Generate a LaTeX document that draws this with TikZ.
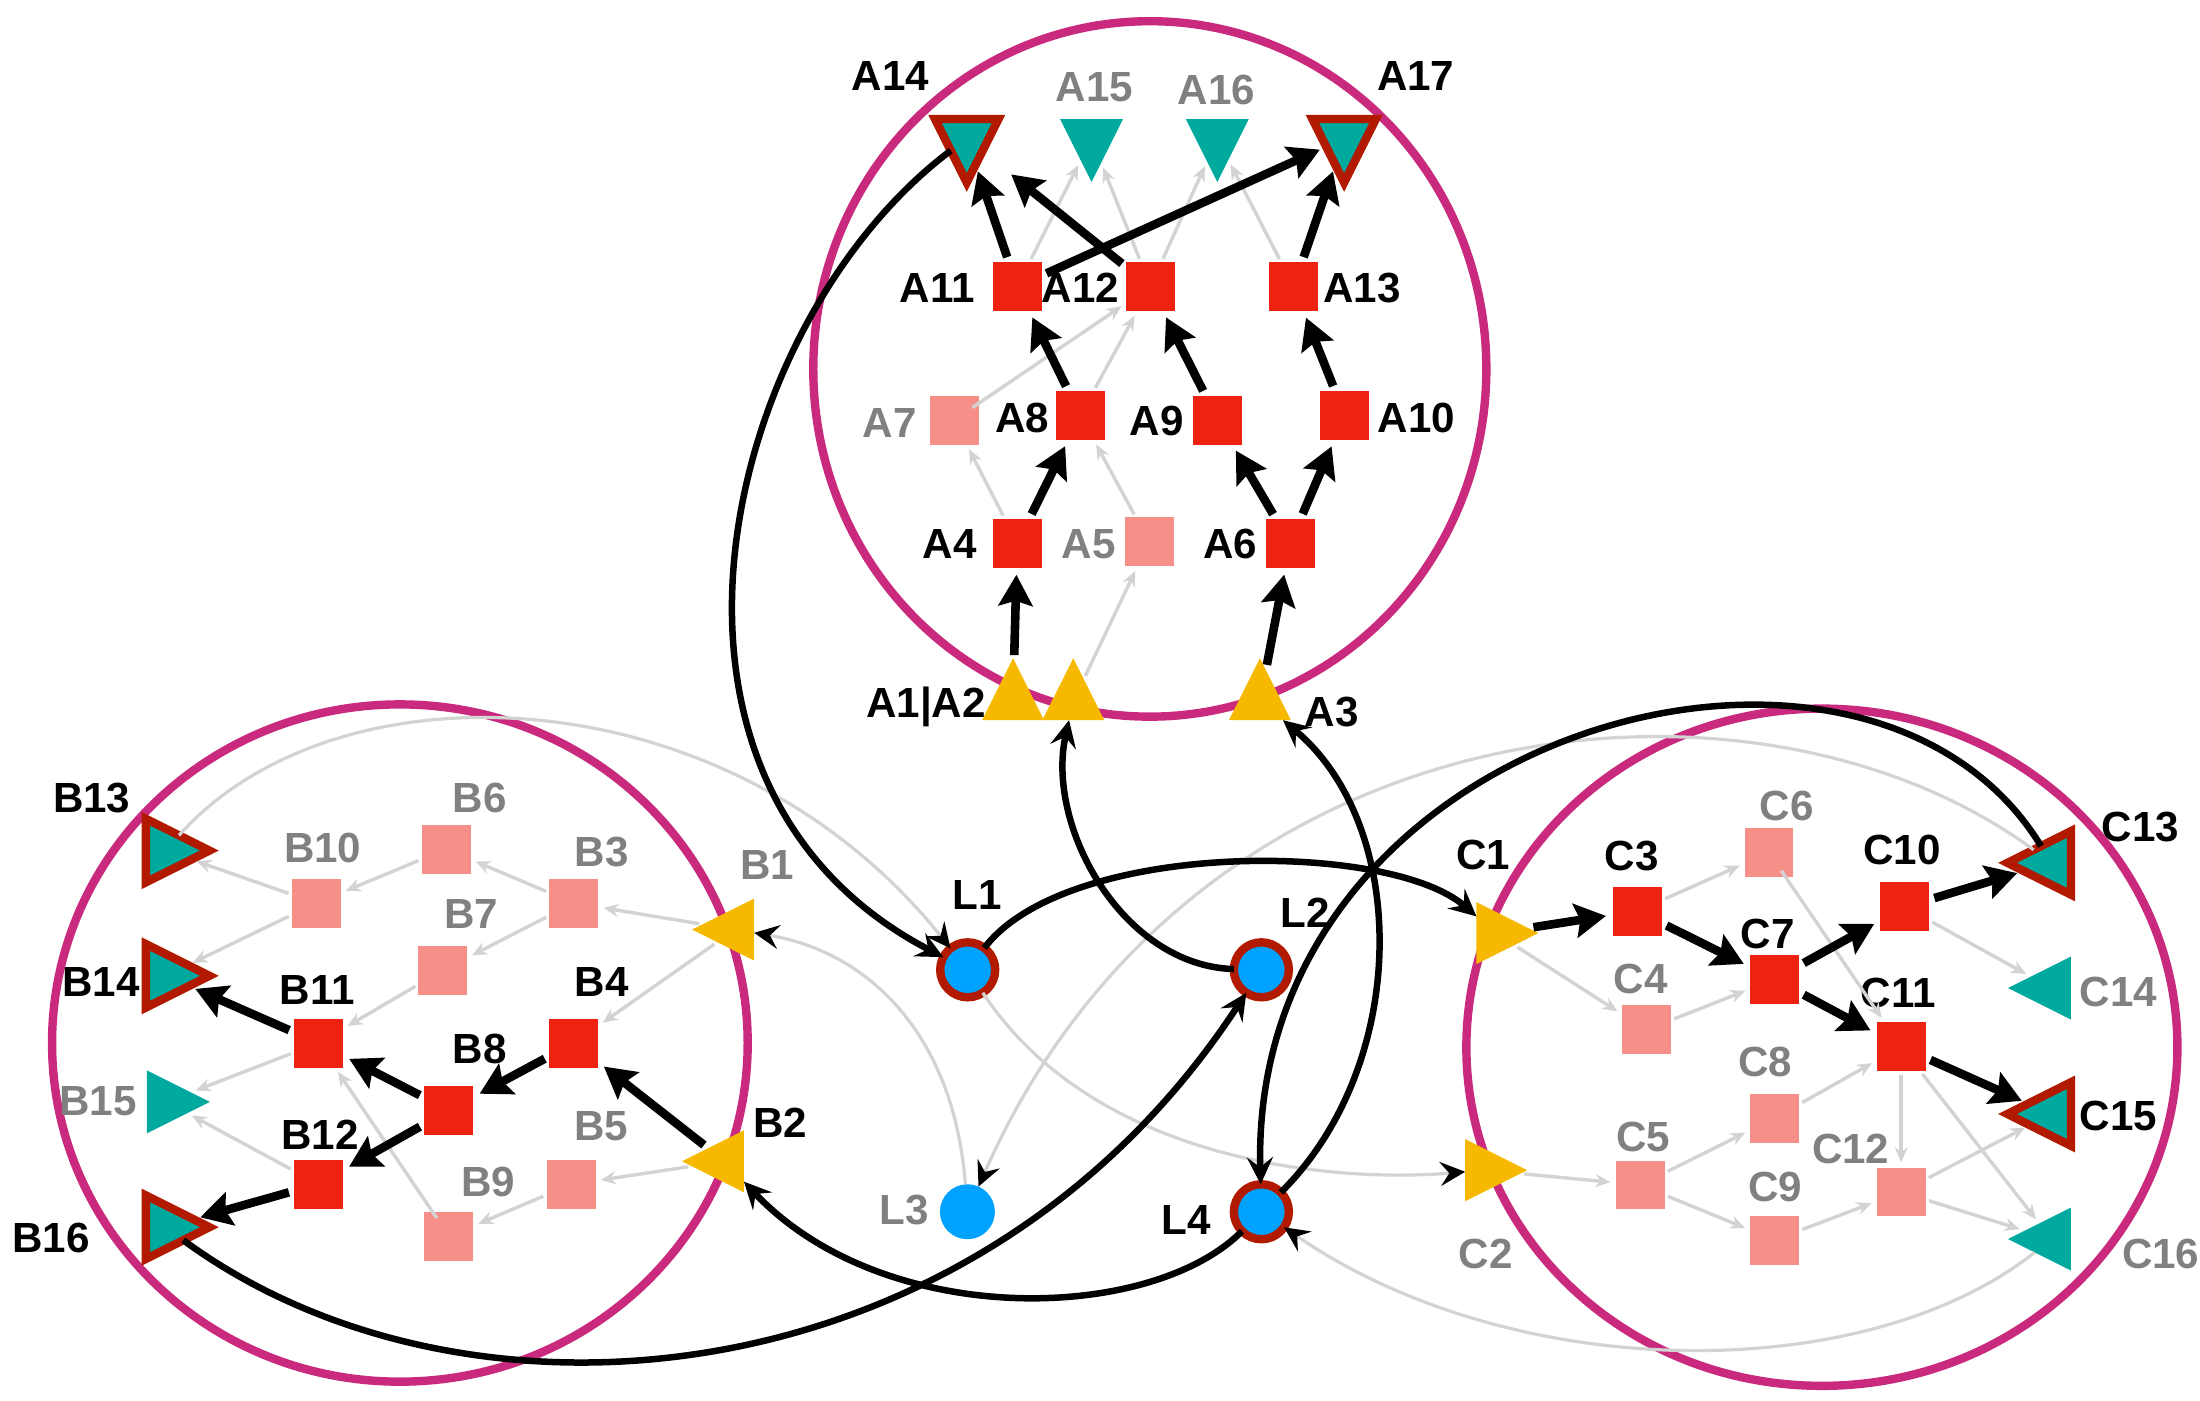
\documentclass[tikz,border=0pt]{standalone}
\usepackage{fontspec}
\setmainfont{Liberation Sans}
\usetikzlibrary{shapes.geometric,arrows.meta}
\definecolor{sqred}{HTML}{EE2211}
\definecolor{sqlight}{HTML}{F58F87}
\definecolor{tealc}{HTML}{00A99D}
\definecolor{outl}{HTML}{B21A00}
\definecolor{yel}{HTML}{F7B800}
\definecolor{bluec}{HTML}{00A2FF}
\definecolor{ellc}{HTML}{C92A7E}
\definecolor{txtgray}{HTML}{808080}
\definecolor{lngray}{HTML}{D3D3D3}
\begin{document}
\begin{tikzpicture}[x=0.014031cm,y=-0.014cm,
  sqr/.style={rectangle, fill=sqred, minimum size=0.49cm, inner sep=0pt, outer sep=0pt},
  sql/.style={sqr, fill=sqlight},
  tri/.style={isosceles triangle, isosceles triangle stretches, inner sep=0pt, outer sep=0pt, minimum width=0.62cm, minimum height=0.62cm},
  ytri/.style={tri, fill=yel},
  ttri/.style={tri, fill=tealc, minimum width=0.63cm, minimum height=0.63cm},
  otri/.style={tri, fill=tealc, draw=outl, line width=0.084cm, minimum width=0.635cm, minimum height=0.635cm},
  lnode/.style={circle, fill=bluec, minimum size=0.55cm, inner sep=0pt, outer sep=0pt},
  lnodeo/.style={lnode, draw=outl, line width=0.084cm},
  lbl/.style={font=\fontsize{12}{14}\selectfont\bfseries, inner sep=0pt, text height=8.6pt, text depth=0pt},
  lblg/.style={lbl, text=txtgray},
  ell/.style={draw=ellc, line width=0.084cm},
  thk/.style={draw=black, line width=0.086cm, -{Stealth[length=0.31cm,width=0.34cm,inset=0.05cm]}, shorten >=2pt, shorten <=1.5pt},
  thn/.style={draw=lngray, line width=0.034cm, -{Stealth[length=0.15cm,width=0.13cm]}, shorten >=1.5pt, shorten <=1pt},
  lng/.style={draw=black, line width=0.065cm, -{Stealth[length=0.27cm,width=0.26cm,inset=0.1cm]}},
  lngg/.style={draw=lngray, line width=0.032cm, -{Stealth[length=0.25cm,width=0.24cm,inset=0.09cm,color=black]}}
]
\useasboundingbox (0,0) rectangle (1568,1000);

% clusters
\draw[ell] (819.5,263.5) ellipse [x radius=3.367cm, y radius=3.479cm];
\draw[ell] (285,745) ellipse [x radius=3.48cm, y radius=3.388cm];
\draw[ell] (1298.5,748) ellipse [x radius=3.557cm, y radius=3.388cm];

% ---- cluster A ----
\node[ytri, shape border rotate=90, anchor=lower side] (A1) at (722,514.4) {};
\node[ytri, shape border rotate=90, anchor=lower side] (A2) at (765,514.4) {};
\node[ytri, shape border rotate=90, anchor=lower side] (A3) at (898,514.4) {};
\node[sqr] (A4) at (725,388) {};
\node[sql] (A5) at (819,387) {};
\node[sqr] (A6) at (919.5,388) {};
\node[sql] (A7) at (680,300) {};
\node[sqr] (A8) at (770,296.7) {};
\node[sqr] (A9) at (868,300) {};
\node[sqr] (A10) at (958.5,296.7) {};
\node[sqr] (A11) at (725,204.7) {};
\node[sqr] (A12) at (820,204.7) {};
\node[sqr] (A13) at (922,204.7) {};
\node[otri, shape border rotate=270, anchor=lower side] (A14) at (689,85) {};
\node[ttri, shape border rotate=270, anchor=lower side] (A15) at (778,85) {};
\node[ttri, shape border rotate=270, anchor=lower side] (A16) at (867.6,85) {};
\node[otri, shape border rotate=270, anchor=lower side] (A17) at (958,85) {};

% ---- cluster B ----
\node[ytri, shape border rotate=180, anchor=lower side] (B1) at (537.5,664) {};
\node[ytri, shape border rotate=180, anchor=lower side] (B2) at (530.2,829.5) {};
\node[sql] (B3) at (409,645) {};
\node[sqr] (B4) at (409,745) {};
\node[sql] (B5) at (407,846) {};
\node[sql] (B6) at (318,606.5) {};
\node[sql] (B7) at (315.7,693) {};
\node[sqr] (B8) at (320,793) {};
\node[sql] (B9) at (320,883) {};
\node[sql] (B10) at (225.5,645) {};
\node[sqr] (B11) at (227,745) {};
\node[sqr] (B12) at (227,845.7) {};
\node[otri, anchor=lower side] (B13) at (104,607.5) {};
\node[otri, anchor=lower side] (B14) at (104,697) {};
\node[ttri, anchor=lower side] (B15) at (104.7,787) {};
\node[otri, anchor=lower side] (B16) at (104,876.5) {};

% ---- cluster C ----
\node[ytri, anchor=lower side] (C1) at (1052.3,666.5) {};
\node[ytri, anchor=lower side] (C2) at (1044.3,835.8) {};
\node[sqr] (C3) at (1167,650.7) {};
\node[sql] (C4) at (1173.4,735.6) {};
\node[sql] (C5) at (1169,846.4) {};
\node[sql] (C6) at (1260.8,609) {};
\node[sqr] (C7) at (1264.8,699.4) {};
\node[sql] (C8) at (1264.8,798.6) {};
\node[sql] (C9) at (1264.8,885.7) {};
\node[sqr] (C10) at (1357.6,647.8) {};
\node[sqr] (C11) at (1355,747.7) {};
\node[sql] (C12) at (1355,851.4) {};
\node[otri, shape border rotate=180, anchor=lower side] (C13) at (1476,616.3) {};
\node[ttri, shape border rotate=180, anchor=lower side] (C14) at (1476,705.7) {};
\node[otri, shape border rotate=180, anchor=lower side] (C15) at (1476,795.7) {};
\node[ttri, shape border rotate=180, anchor=lower side] (C16) at (1476,885) {};

% ---- L nodes ----
\node[lnodeo] (L1) at (689.7,692.7) {};
\node[lnodeo] (L2) at (899,692.7) {};
\node[lnode] (L3) at (689.5,865.5) {};
\node[lnodeo] (L4) at (899,865.5) {};

% ---- labels ----
\node[lbl] (tA14) at (634.7,53.7) {A14};
\node[lblg] (tA15) at (780,62) {A15};
\node[lblg] (tA16) at (867,64) {A16};
\node[lbl] (tA17) at (1009,53.7) {A17};
\node[lbl] (tA11) at (668,205.5) {A11};
\node[lbl] (tA12) at (770,205.5) {A12};
\node[lbl] (tA13) at (970.6,205.5) {A13};
\node[lblg] (tA7) at (634,301.5) {A7};
\node[lbl] (tA8) at (728.5,298) {A8};
\node[lbl] (tA9) at (824.5,300) {A9};
\node[lbl] (tA10) at (1009.6,298) {A10};
\node[lbl] (tA4) at (677,388) {A4};
\node[lblg] (tA5) at (776,388) {A5};
\node[lbl] (tA6) at (877,388) {A6};
\node[lbl] (tA12b) at (660,502) {A1|A2};
\node[lbl] (tA3) at (949,508) {A3};

\node[lbl] (tB13) at (65.4,569.5) {B13};
\node[lblg] (tB6) at (342,569.5) {B6};
\node[lblg] (tB10) at (230,605) {B10};
\node[lblg] (tB3) at (429,608) {B3};
\node[lblg] (tB1) at (547,617.5) {B1};
\node[lblg] (tB7) at (336,652.7) {B7};
\node[lbl] (tB14) at (72,701) {B14};
\node[lbl] (tB11) at (226,707) {B11};
\node[lbl] (tB4) at (429,701) {B4};
\node[lbl] (tB8) at (342,749) {B8};
\node[lblg] (tB15) at (70,786) {B15};
\node[lblg] (tB5) at (428.5,804) {B5};
\node[lbl] (tB12) at (228,810) {B12};
\node[lblg] (tB9) at (348,843.5) {B9};
\node[lbl] (tB16) at (36.4,884) {B16};
\node[lbl] (tB2) at (556,802) {B2};

\node[lbl] (tC1) at (1057,610.5) {C1};
\node[lbl] (tC3) at (1163,611) {C3};
\node[lblg] (tC6) at (1273.4,575) {C6};
\node[lbl] (tC10) at (1355.5,607) {C10};
\node[lbl] (tC13) at (1525.6,590) {C13};
\node[lbl] (tC7) at (1260,667) {C7};
\node[lblg] (tC4) at (1169.3,699) {C4};
\node[lbl] (tC11) at (1352.8,709) {C11};
\node[lblg] (tC14) at (1510,708) {C14};
\node[lblg] (tC8) at (1258,758) {C8};
\node[lbl] (tC15) at (1510,796.7) {C15};
\node[lblg] (tC5) at (1171,812) {C5};
\node[lblg] (tC12) at (1319,820) {C12};
\node[lblg] (tC9) at (1265.3,847.7) {C9};
\node[lblg] (tC2) at (1059,895) {C2};
\node[lblg] (tC16) at (1540,895) {C16};

\node[lbl] (tL1) at (696.7,639) {L1};
\node[lbl] (tL2) at (930,652) {L2};
\node[lblg] (tL3) at (644.5,863.5) {L3};
\node[lbl] (tL4) at (845.3,871) {L4};

% ---- thin grey edges inside clusters ----
\foreach \s/\t in {A2/A5, A4/A7, A5/A8, A8/A12, A11/A15, A12/A15, A12/A16, A13/A16,
  B1/B3, B1/B4, B2/B5, B3/B6, B3/B7, B6/B10, B10/B13, B10/B14, B7/B11, B5/B9, B11/B15, B12/B15,
  C1/C4, C2/C5, C3/C6, C4/C7, C5/C8, C5/C9, C8/C11, C9/C12, C10/C14, C11/C12, C11/C16, C12/C15, C12/C16}
  \draw[thn] (\s) -- (\t);
\draw[thn, shorten <=0.22cm] (A7.center) -- (A12);
\draw[thn, shorten <=0.22cm] (B9.center) -- (B11);
\draw[thn, shorten <=0.22cm] (C6.center) -- (C11);

% ---- thick black edges inside clusters ----
\foreach \s/\t in {A1/A4, A3/A6, A4/A8, A6/A9, A6/A10, A8/A11, A9/A12, A10/A13, A11/A14, A11/A17, A13/A17,
  B2/B4, B4/B8, B8/B11, B8/B12, B11/B14, B12/B16,
  C1/C3, C3/C7, C7/C10, C7/C11, C10/C13, C11/C15}
  \draw[thk] (\s) -- (\t);
\draw[thk, shorten >=0.37cm] (A12) -- (A14);

% ---- long connectors between clusters ----
\draw[lngg] (B13) .. controls (240,470) and (520,480) .. (L1);
\draw[lngg] (L3) .. controls (680,740) and (620,680) .. (B1);
\draw[lngg] (C13) .. controls (1250,460) and (850,500) .. (L3);
\draw[lngg] (L1) .. controls (780,830) and (950,845) .. (C2);
\draw[lngg] (C16) .. controls (1330,990) and (1080,990) .. (L4);

\draw[lng] (A14) .. controls (515,230) and (435,560) .. (L1);
\draw[lng] (L1) .. controls (760,600) and (990,600) .. (C1);
\draw[lng] (L2) .. controls (800,690) and (745,590) .. (A2);
\draw[lng] (B16) .. controls (333,1035) and (697,1002) .. (L2);
\draw[lng] (L4) .. controls (1005,760) and (1005,590) .. (A3);
\draw[lng] (C13) .. controls (1330,400) and (890,520) .. (L4);
\draw[lng] (L4) .. controls (820,945) and (630,950) .. (B2);
\end{tikzpicture}
\end{document}
